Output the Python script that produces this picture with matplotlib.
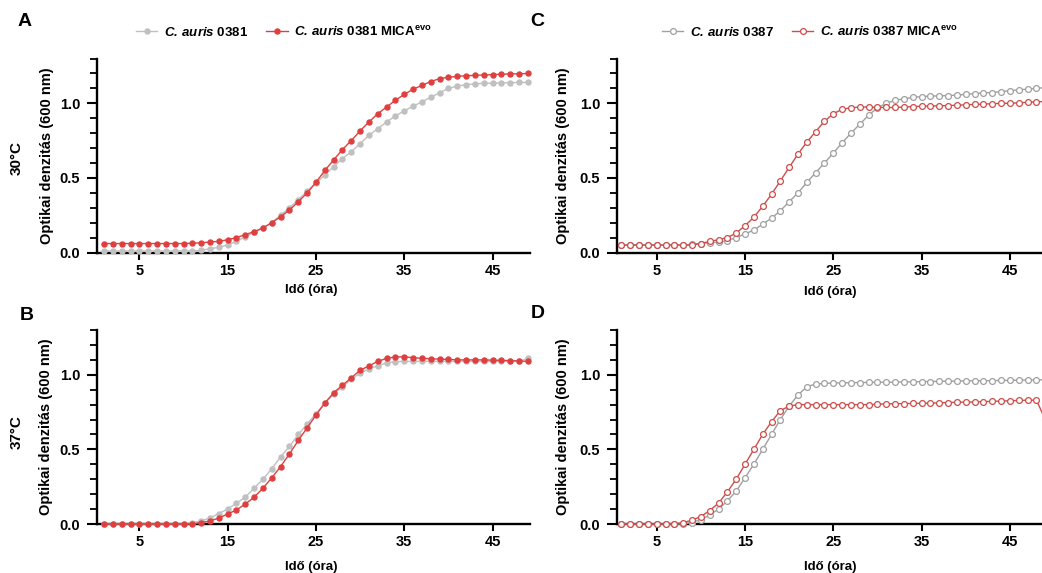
import matplotlib
matplotlib.use("Agg")
import matplotlib.pyplot as plt
import numpy as np

plt.rcParams['font.family'] = ['Liberation Sans', 'DejaVu Sans']
plt.rcParams['font.weight'] = 'bold'
plt.rcParams['mathtext.fontset'] = 'custom'
plt.rcParams['mathtext.rm'] = 'Liberation Sans:bold'
plt.rcParams['mathtext.bf'] = 'Liberation Sans:bold'
plt.rcParams['mathtext.it'] = 'Liberation Sans:bold:italic'
plt.rcParams['mathtext.bfit'] = 'Liberation Sans:bold:italic'

# ---------------- data ----------------
hours = list(range(1, 50))

# Panel A: 30 °C, C. auris 0381
a_wt = [0.01] * 10 + [0.01, 0.015, 0.025, 0.035, 0.05, 0.075, 0.105, 0.135, 0.165, 0.20,
        0.25, 0.30, 0.355, 0.41, 0.465, 0.52, 0.575, 0.63, 0.675, 0.73,
        0.785, 0.83, 0.875, 0.915, 0.95, 0.98, 1.01, 1.04, 1.07, 1.10,
        1.115, 1.125, 1.13, 1.134, 1.135, 1.137, 1.138, 1.14, 1.14]
a_evo = [0.06] * 10 + [0.062, 0.065, 0.07, 0.075, 0.085, 0.10, 0.12, 0.14, 0.165, 0.20,
         0.24, 0.285, 0.34, 0.40, 0.47, 0.55, 0.62, 0.69, 0.75, 0.815,
         0.875, 0.93, 0.975, 1.02, 1.06, 1.094, 1.12, 1.146, 1.165, 1.175,
         1.18, 1.185, 1.187, 1.19, 1.192, 1.195, 1.197, 1.198, 1.20]

# Panel B: 37 °C, C. auris 0381
b_wt = [0.0] * 10 + [0.01, 0.02, 0.04, 0.07, 0.10, 0.14, 0.18, 0.24, 0.30, 0.37,
        0.45, 0.52, 0.60, 0.67, 0.74, 0.81, 0.87, 0.92, 0.97, 1.01,
        1.04, 1.06, 1.08, 1.088, 1.09, 1.09, 1.09, 1.09, 1.09, 1.09,
        1.09, 1.09, 1.09, 1.09, 1.09, 1.09, 1.09, 1.09, 1.11]
b_evo = [0.0] * 11 + [0.01, 0.02, 0.04, 0.067, 0.094, 0.134, 0.18, 0.24, 0.31,
         0.385, 0.47, 0.56, 0.645, 0.73, 0.81, 0.88, 0.93, 0.98, 1.03,
         1.06, 1.09, 1.11, 1.12, 1.12, 1.115, 1.11, 1.108, 1.105, 1.103,
         1.10, 1.10, 1.10, 1.10, 1.098, 1.097, 1.095, 1.093, 1.09]

# Panel C: 30 °C, C. auris 0387
c_wt = [0.05] * 8 + [0.055, 0.06, 0.065, 0.07, 0.08, 0.10, 0.125, 0.15, 0.19, 0.23,
        0.28, 0.34, 0.40, 0.47, 0.535, 0.60, 0.667, 0.735, 0.80, 0.86,
        0.92, 0.97, 1.00, 1.02, 1.03, 1.04, 1.045, 1.048, 1.05, 1.052,
        1.055, 1.06, 1.065, 1.07, 1.072, 1.078, 1.085, 1.09, 1.095, 1.10, 1.105]
c_evo = [0.05] * 9 + [0.06, 0.075, 0.085, 0.10, 0.13, 0.18, 0.236, 0.31, 0.39, 0.48,
         0.57, 0.66, 0.74, 0.81, 0.88, 0.93, 0.96, 0.97, 0.975, 0.975,
         0.972, 0.972, 0.972, 0.975, 0.978, 0.98, 0.982, 0.983, 0.985, 0.987,
         0.99, 0.992, 0.995, 0.997, 1.0, 1.0, 1.003, 1.007, 1.01, 1.012]

# Panel D: 37 °C, C. auris 0387
d_wt = [0.0] * 8 + [0.01, 0.03, 0.06, 0.10, 0.155, 0.22, 0.31, 0.40, 0.50, 0.60,
        0.70, 0.79, 0.865, 0.92, 0.938, 0.942, 0.945, 0.946, 0.947, 0.948,
        0.949, 0.95, 0.95, 0.951, 0.952, 0.953, 0.954, 0.955, 0.956, 0.957,
        0.958, 0.959, 0.96, 0.96, 0.961, 0.962, 0.963, 0.964, 0.965, 0.965, 0.967]
d_evo = [0.0] * 7 + [0.01, 0.025, 0.05, 0.09, 0.14, 0.215, 0.30, 0.40, 0.50, 0.60,
         0.685, 0.76, 0.79, 0.80, 0.80, 0.80, 0.80, 0.80, 0.80, 0.80,
         0.80, 0.80, 0.802, 0.805, 0.806, 0.807, 0.808, 0.809, 0.81, 0.812,
         0.814, 0.816, 0.817, 0.818, 0.82, 0.822, 0.824, 0.826, 0.828, 0.83,
         0.83, 0.70]

x_ticks = [5, 15, 25, 35, 45]
y_ticks = [0.0, 0.5, 1.0]
y_tick_labels = ["0.0", "0.5", "1.0"]

label_0381 = r"$\mathbfit{C.\,auris}$ 0381"
label_0381_evo = r"$\mathbfit{C.\,auris}$ 0381 MICA$^{\mathbf{evo}}$"
label_0387 = r"$\mathbfit{C.\,auris}$ 0387"
label_0387_evo = r"$\mathbfit{C.\,auris}$ 0387 MICA$^{\mathbf{evo}}$"

ylabel = "Optikai denzitás (600 nm)"
xlabel = "Idő (óra)"

# ---------------- styles ----------------
RED_F = '#DE4040'
GRAY_F = '#C0C0C0'
RED_O = '#CC4E4B'
GRAY_O = '#A0A0A0'

W, H = 1042, 573
fig = plt.figure(figsize=(W / 100, H / 100), dpi=100)


def px_axes(left, right, y0, ppu, ymax=1.3):
    bottom = 1 - y0 / H
    height = ymax * ppu / H
    return fig.add_axes([left / W, bottom, (right - left) / W, height])


def style(ax, xlo, xhi, ylab_x, xlab_x, xlab_off):
    ax.set_xlim(xlo, xhi)
    ax.set_ylim(0, 1.3)
    for s in ['top', 'right']:
        ax.spines[s].set_visible(False)
    for s in ['left', 'bottom']:
        ax.spines[s].set_linewidth(1.7)
    ax.set_xticks(x_ticks)
    ax.set_yticks(y_ticks)
    ax.set_yticklabels(y_tick_labels)
    ax.set_yticks(np.arange(0, 1.31, 0.1), minor=True)
    ax.tick_params(axis='x', which='major', length=5, width=1.5,
                   labelsize=10.5, pad=3)
    ax.tick_params(axis='y', which='major', length=7.5, width=1.5,
                   labelsize=10.5, pad=4.5)
    ax.tick_params(axis='y', which='minor', length=5, width=1.3)
    ax.tick_params(axis='x', which='minor', length=0)
    for lab in ax.get_xticklabels() + ax.get_yticklabels():
        lab.set_fontweight('bold')
    bb = ax.get_position()
    x0 = bb.x0 * W
    wpx, hpx = bb.width * W, bb.height * H
    ax.set_ylabel(ylabel, fontsize=10.5, fontweight='bold')
    ax.yaxis.set_label_coords((ylab_x - x0) / wpx, 0.5)
    ax.yaxis.label.set_verticalalignment('center')
    ax.set_xlabel(xlabel, fontsize=9.5, fontweight='bold')
    ax.xaxis.set_label_coords((xlab_x - x0) / wpx, -xlab_off / hpx)
    ax.xaxis.label.set_verticalalignment('center')


def filled(ax, x, y, c, label):
    ax.plot(x, y, '-o', color=c, ms=3.6, lw=1.0, mec=c, mfc=c, clip_on=False,
            label=label, zorder=3)


def opened(ax, x, y, c, label):
    ax.plot(x, y, '-o', color=c, ms=4.2, lw=1.0, mec=c, mfc='white', mew=0.9,
            clip_on=False, label=label, zorder=3)


# A
axA = px_axes(96.7, 530, 252.5, 149.2)
filled(axA, hours, a_wt, GRAY_F, label_0381)
filled(axA, hours, a_evo, RED_F, label_0381_evo)
style(axA, 0.17, 49.24, 47, 311, 37)

# B
axB = px_axes(96.7, 530, 524, 149.2)
filled(axB, hours, b_wt, GRAY_F, label_0381)
filled(axB, hours, b_evo, RED_F, label_0381_evo)
style(axB, 0.17, 49.24, 46, 311, 43)

# C
axC = px_axes(616.7, 1042, 252.5, 149.2)
opened(axC, hours, c_wt, GRAY_O, label_0387)
opened(axC, hours, c_evo, RED_O, label_0387_evo)
style(axC, 0.47, 48.63, 563, 830, 39)

# D
axD = px_axes(616.7, 1042, 524, 149.2)
opened(axD, hours, d_wt, GRAY_O, label_0387)
opened(axD, hours, d_evo, RED_O, label_0387_evo)
style(axD, 0.47, 48.63, 562.5, 830, 43)

# legends
for ax, cx in [(axA, 284), (axC, 810)]:
    ax.legend(loc='center', bbox_to_anchor=(cx / W, 1 - 32 / H),
              bbox_transform=fig.transFigure, ncol=2, frameon=False,
              handlelength=1.6, handletextpad=0.5, columnspacing=1.4,
              prop={'size': 9.5, 'weight': 'bold'})

# panel letters
for t, x, y in [("A", 25, 21), ("B", 27, 315), ("C", 537, 21), ("D", 538, 314)]:
    fig.text(x / W, 1 - y / H, t, fontsize=14, fontweight='bold',
             ha='center', va='center')

# temperature labels
for t, y in [("30°C", 158), ("37°C", 432)]:
    fig.text(17 / W, 1 - y / H, t, fontsize=11, fontweight='bold',
             rotation=90, ha='center', va='center')

fig.savefig("out.png", dpi=100)
